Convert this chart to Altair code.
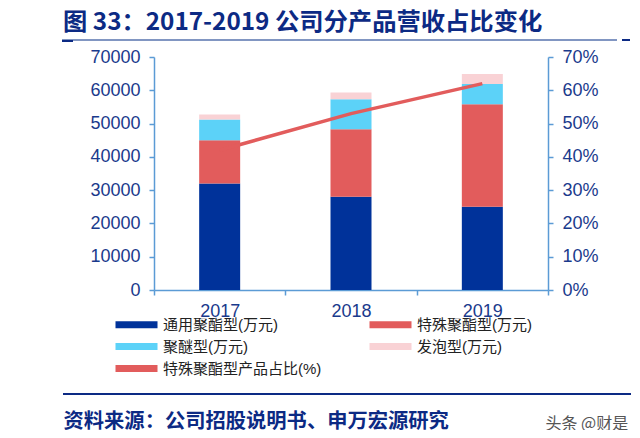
import altair as alt
import pandas as pd

years = ["2017", "2018", "2019"]
series_names = ["通用聚酯型(万元)", "特殊聚酯型(万元)", "聚醚型(万元)", "发泡型(万元)"]
tongyong = [32000, 28000, 25000]
teshu = [13000, 20300, 30800]
jumi = [6200, 9000, 6100]
fapao = [1500, 2000, 3000]
line_name = "特殊聚酯型产品占比(%)"
ratio = [0.42, 0.53, 0.62]

left_ticks = [0, 10000, 20000, 30000, 40000, 50000, 60000, 70000]
right_ticks = [0, 0.1, 0.2, 0.3, 0.4, 0.5, 0.6, 0.7]

color_of = {
    "通用聚酯型(万元)": "#00329A",
    "特殊聚酯型(万元)": "#E25C5C",
    "聚醚型(万元)": "#5CD2F8",
    "发泡型(万元)": "#F9D2D5",
    line_name: "#E25C5C",
}
# legend is filled column by column: left column, then right column
legend_order = ["通用聚酯型(万元)", "聚醚型(万元)", line_name, "特殊聚酯型(万元)", "发泡型(万元)"]

rows = []
for si, (name, vals) in enumerate(zip(series_names, [tongyong, teshu, jumi, fapao])):
    for y, v in zip(years, vals):
        rows.append({"year": y, "series": name, "value": v, "ord": si})
df = pd.DataFrame(rows)
df_line = pd.DataFrame({"year": years, "ratio": ratio})

NAVY = "#1A3A8C"
AXC = "#5B9BD5"
LABEL_FONT = "Liberation Sans, Noto Sans CJK SC"
CJK = "Noto Sans CJK SC"

x_enc = alt.X(
    "year:N",
    sort=years,
    scale=alt.Scale(paddingInner=0, paddingOuter=0),
    axis=alt.Axis(
        title="资料来源：公司招股说明书、申万宏源研究",
        titleX=-91, titleY=137, titleAlign="left", titleAnchor="start",
        titleBaseline="alphabetic", titleAngle=0,
        titleFont=CJK, titleFontSize=20.3, titleFontWeight="bold", titleColor="#0C2A84",
        labelAngle=0, labelFont=LABEL_FONT, labelFontSize=18, labelColor=NAVY,
        labelPadding=7, tickBand="extent", tickSize=5, tickColor=AXC,
        domainColor=AXC, domainWidth=1.5, tickWidth=1.5, grid=False,
    ),
)

bars = alt.Chart(df).mark_bar(size=41).encode(
    x=x_enc,
    y=alt.Y(
        "value:Q", stack="zero",
        scale=alt.Scale(domain=[0, 70000], nice=False),
        axis=alt.Axis(
            title=None, values=left_ticks, format="d", grid=False,
            labelFont=LABEL_FONT, labelFontSize=18, labelColor=NAVY, labelPadding=9,
            tickSize=5, tickColor=AXC, tickWidth=1.5, domainColor=AXC, domainWidth=1.5,
        ),
    ),
    color=alt.Color(
        "series:N",
        scale=alt.Scale(domain=legend_order, range=[color_of[n] for n in legend_order]),
        legend=alt.Legend(
            title=None, orient="none", legendX=-39, legendY=260, columns=2,
            symbolType="M-1,-0.5L5,-0.5L5,0.5L-1,0.5Z", symbolSize=196,
            symbolStrokeWidth=0, symbolOpacity=1, labelOffset=33,
            labelFont=LABEL_FONT, labelFontSize=15, labelColor="#222222",
            columnPadding=47, rowPadding=6, labelLimit=300,
        ),
    ),
    order=alt.Order("ord:Q", sort="ascending"),
)

line = alt.Chart(df_line).mark_line(color="#E25C5C", strokeWidth=3.5).encode(
    x=x_enc,
    y=alt.Y(
        "ratio:Q",
        scale=alt.Scale(domain=[0, 0.7], nice=False),
        axis=alt.Axis(
            orient="right", values=right_ticks, format=".0%", grid=False,
            title="头条 @财是", titleAngle=0, titleX=-3, titleY=371,
            titleAlign="left", titleBaseline="alphabetic", titleFont=CJK,
            titleFontSize=16, titleFontWeight="normal", titleColor="#555555",
            labelFont=LABEL_FONT, labelFontSize=18, labelColor=NAVY, labelPadding=9,
            tickSize=5, tickColor=AXC, tickWidth=1.5, domainColor=AXC, domainWidth=1.5,
        ),
    ),
)

one = alt.Data(values=[{"k": 1}])
rule_top = alt.Chart(one).mark_rule(color="#8196C2", strokeWidth=2).encode(
    x=alt.value(-92), x2=alt.value(463), y=alt.value(-17))
rule_top_end = alt.Chart(one).mark_rule(color="#0C2A84", strokeWidth=2).encode(
    x=alt.value(468), x2=alt.value(476), y=alt.value(-17))
rule_top_start = alt.Chart(one).mark_rule(color="#0C2A84", strokeWidth=2).encode(
    x=alt.value(-92), x2=alt.value(-81), y=alt.value(-16))
rule_bottom = alt.Chart(one).mark_rule(color="#0C2A84", strokeWidth=2).encode(
    x=alt.value(-91), x2=alt.value(477), y=alt.value(337))

chart = alt.layer(bars, line, rule_top, rule_top_end, rule_top_start, rule_bottom).resolve_scale(
    y="independent"
).properties(
    width=394, height=233,
    autosize="none",
    padding={"left": 146, "top": 49, "right": 84, "bottom": 140},
    title=alt.TitleParams(
        text="图 33：2017-2019 公司分产品营收占比变化",
        anchor="start", frame="group", dx=-91, dy=23, offset=8,
        fontSize=24.3, font=CJK, fontWeight="bold", color="#0C2A84",
        baseline="alphabetic",
    ),
).configure_view(stroke=None)

chart.save("out.html", embed_options={"renderer": "svg", "actions": False})
